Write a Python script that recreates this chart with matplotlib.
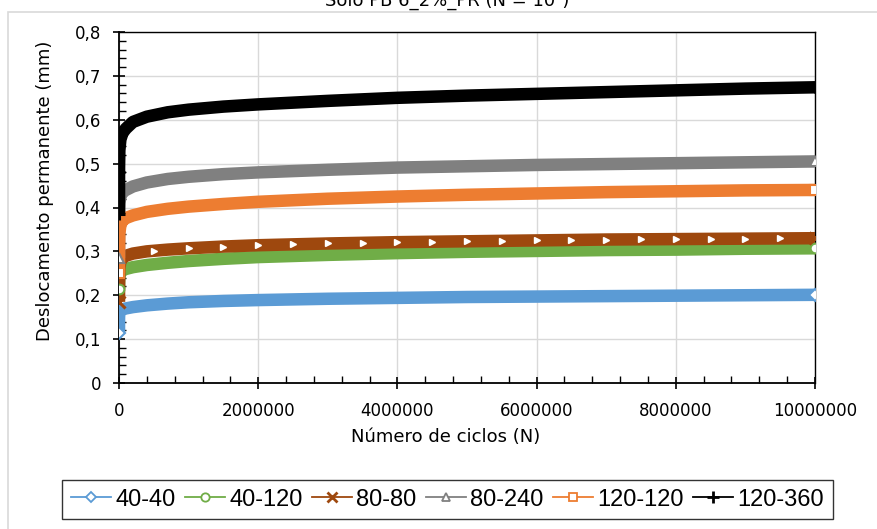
import matplotlib
matplotlib.use("Agg")
import matplotlib.pyplot as plt
from matplotlib.lines import Line2D
from matplotlib.patches import Rectangle
from matplotlib.ticker import MultipleLocator, FuncFormatter
import numpy as np

plt.rcParams['font.family'] = ['DejaVu Sans']

title = "Solo PB 6_2%_PR (N = 10⁷)"
x_label = "Número de ciclos (N)"
y_label = "Deslocamento permanente (mm)"

ciclos = [1, 1000, 5000, 20000, 50000, 100000, 200000, 400000, 700000, 1000000,
          1500000, 2000000, 3000000, 4000000, 5000000, 6000000, 7000000, 8000000,
          9000000, 10000000]

series_names = ["40-40", "40-120", "80-80", "80-240", "120-120", "120-360"]
s_40_40 = [0.115, 0.150, 0.160, 0.165, 0.168, 0.170, 0.173, 0.177, 0.181, 0.184,
           0.187, 0.189, 0.192, 0.194, 0.196, 0.197, 0.198, 0.199, 0.200, 0.201]
s_40_120 = [0.215, 0.230, 0.245, 0.252, 0.257, 0.260, 0.264, 0.269, 0.274, 0.278,
            0.283, 0.287, 0.292, 0.296, 0.299, 0.301, 0.303, 0.304, 0.306, 0.307]
s_80_80 = [0.185, 0.220, 0.260, 0.278, 0.285, 0.290, 0.295, 0.300, 0.304, 0.307,
           0.311, 0.314, 0.318, 0.321, 0.323, 0.325, 0.327, 0.328, 0.329, 0.330]
s_80_240 = [0.285, 0.390, 0.410, 0.425, 0.435, 0.440, 0.448, 0.457, 0.465, 0.470,
            0.476, 0.480, 0.486, 0.491, 0.494, 0.497, 0.499, 0.501, 0.503, 0.505]
s_120_120 = [0.250, 0.300, 0.340, 0.360, 0.370, 0.376, 0.382, 0.390, 0.397, 0.402,
             0.408, 0.413, 0.420, 0.425, 0.429, 0.432, 0.435, 0.437, 0.439, 0.440]
s_120_360 = [0.385, 0.490, 0.530, 0.555, 0.570, 0.580, 0.595, 0.607, 0.617, 0.623,
             0.630, 0.635, 0.643, 0.650, 0.655, 0.659, 0.663, 0.667, 0.671, 0.674]

all_series = [s_40_40, s_40_120, s_80_80, s_80_240, s_120_120, s_120_360]
colors = ["#5B9BD5", "#70AD47", "#9E480E", "#808080", "#ED7D31", "#000000"]
markers = ["D", "o", "x", "^", "s", "+"]
msizes = [6, 7, 8, 7, 7, 9]

# positions of the white arrow-like artefacts on the 80-80 band
arrow_x = [500000 * k for k in range(1, 20)]

fig = plt.figure(figsize=(8.77, 5.29), dpi=100)
fig.patches.append(Rectangle((8/877, -0.1), 1.2, 1 - 12/529 + 0.1,
                             transform=fig.transFigure, fill=False,
                             edgecolor="#D9D9D9", linewidth=1.2, zorder=0))
fig.text(447/877, 1 - 6/529, title, ha="center", va="baseline", fontsize=13)

ax = fig.add_axes([119/877, 1 - 383/529, (815 - 119)/877, (383 - 32)/529])

for vals, col, mk, ms in zip(all_series, colors, markers, msizes):
    ax.plot(ciclos, vals, color=col, lw=9, solid_capstyle="butt", zorder=3)
    mew = 2.2 if mk in ("x", "+") else 1.5
    face = "white" if mk not in ("x", "+") else col
    ax.plot([ciclos[0], ciclos[-1]], [vals[0], vals[-1]], linestyle="none",
            marker=mk, markersize=ms, markerfacecolor=face, markeredgecolor=col,
            markeredgewidth=mew, zorder=4)

arrow_y = np.interp(arrow_x, ciclos, s_80_80)
ax.plot(arrow_x, arrow_y, linestyle="none", marker=">", markersize=4,
        color="white", markeredgecolor="white", zorder=5)
ax.plot([ciclos[1]], [0.48], linestyle="none", marker="+", markersize=9,
        color="black", markeredgewidth=2, zorder=4)

ax.set_xlim(0, 10000000)
ax.set_ylim(0, 0.8)
ax.xaxis.set_major_locator(MultipleLocator(2000000))
ax.xaxis.set_minor_locator(MultipleLocator(400000))
ax.yaxis.set_major_locator(MultipleLocator(0.1))
ax.yaxis.set_minor_locator(MultipleLocator(0.02))
ax.xaxis.set_major_formatter(FuncFormatter(lambda v, p: f"{int(round(v))}"))
ax.yaxis.set_major_formatter(FuncFormatter(
    lambda v, p: "0" if abs(v) < 1e-9 else f"{v:.1f}".replace(".", ",")))
ax.grid(True, which="major", color="#D9D9D9", linewidth=1.0, zorder=0)
ax.set_axisbelow(True)
ax.tick_params(which="major", direction="inout", length=9, width=1.2,
               labelsize=12, colors="black")
ax.tick_params(which="minor", direction="in", length=5, width=1.0)
ax.tick_params(axis="x", which="major", pad=9)
ax.tick_params(axis="y", which="major", pad=8)
for sp in ax.spines.values():
    sp.set_color("black")
    sp.set_linewidth(1.0)
ax.spines["left"].set_linewidth(1.3)
ax.spines["bottom"].set_linewidth(1.3)
ax.set_xlabel(x_label, fontsize=13)
ax.set_ylabel(y_label, fontsize=13)
ax.xaxis.set_label_coords(0.47, -0.128)
ax.yaxis.label.set_va("center")
ax.yaxis.set_label_coords(-0.106, 0.547)

handles = []
for name, col, mk, ms in zip(series_names, colors, markers, msizes):
    face = "white" if mk not in ("x", "+") else col
    mew = 2 if mk in ("x", "+") else 1.3
    handles.append(Line2D([0], [0], color=col, lw=1.3, marker=mk, markersize=ms - 1,
                          markerfacecolor=face, markeredgecolor=col,
                          markeredgewidth=mew, label=name))
leg = fig.legend(handles=handles, loc="center", ncol=6,
                 bbox_to_anchor=(447.5/877, 1 - 499.5/529),
                 prop={"family": "Liberation Sans", "size": 17},
                 frameon=True, fancybox=False, edgecolor="black",
                 handlelength=1.7, handletextpad=0.17, columnspacing=0.4,
                 borderpad=0.38, borderaxespad=0)
leg.get_frame().set_linewidth(1.0)

fig.savefig("out.png", dpi=100)
